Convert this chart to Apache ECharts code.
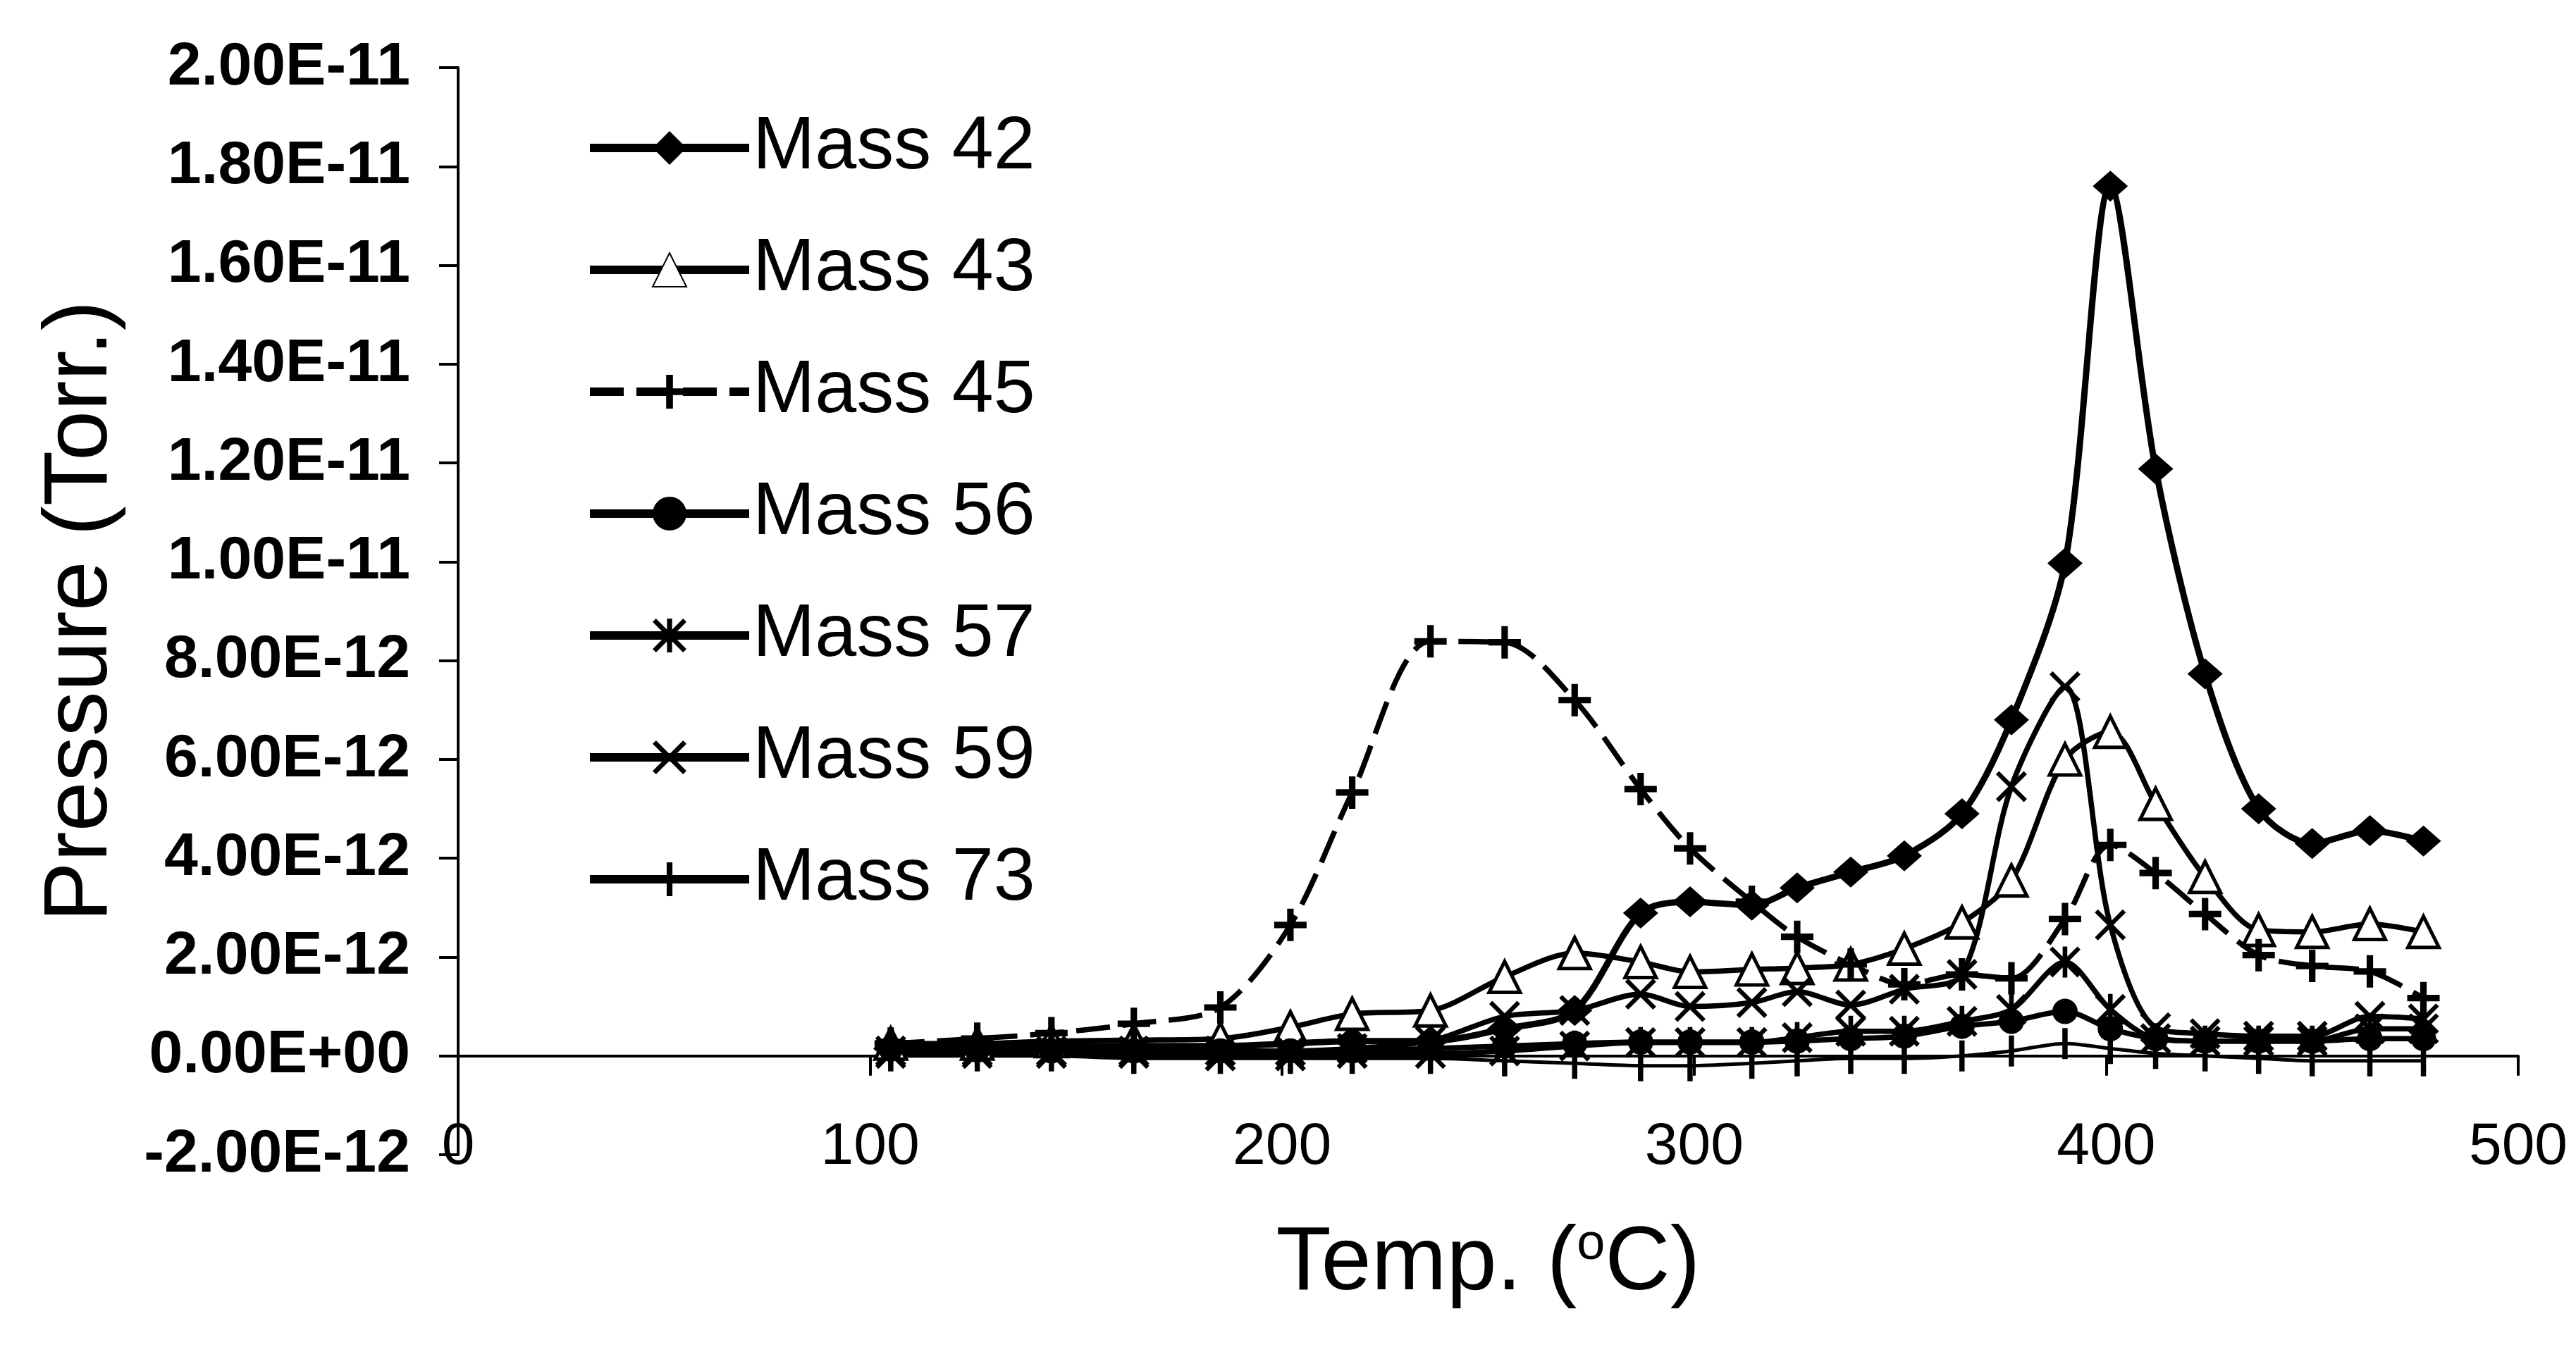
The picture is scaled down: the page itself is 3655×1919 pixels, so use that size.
<!DOCTYPE html>
<html>
<head>
<meta charset="utf-8">
<script src="https://cdn.jsdelivr.net/npm/echarts@6/dist/echarts.min.js"></script>
<style>
  html, body { margin: 0; padding: 0; background: #fff; }
  #chart { width: 3655px; height: 1919px; }
</style>
</head>
<body>
<div id="chart"></div>
<script>
// temperatures (deg C) of the measured points
var temps = [105, 126, 144, 164, 185, 202, 217, 236, 254, 271, 287, 299, 314, 325, 338, 351, 365, 377, 390, 401, 412, 424, 437, 450, 464, 477];

// pressures, in units of 1E-12 Torr
var mass42 = [0.15, 0.15, 0.2, 0.2, 0.2, 0.25, 0.3, 0.3, 0.55, 0.92, 2.89, 3.12, 3.05, 3.4, 3.72, 4.05, 4.9, 6.8, 9.97, 17.6, 11.88, 7.73, 5.0, 4.3, 4.56, 4.35];
var mass43 = [0.25, 0.25, 0.3, 0.32, 0.35, 0.58, 0.85, 0.92, 1.6, 2.08, 1.9, 1.7, 1.75, 1.78, 1.85, 2.17, 2.7, 3.55, 6.0, 6.56, 5.1, 3.62, 2.55, 2.51, 2.67, 2.51];
var mass45 = [0.25, 0.35, 0.46, 0.65, 0.98, 2.65, 5.33, 8.39, 8.37, 7.2, 5.4, 4.2, 3.12, 2.41, 1.85, 1.45, 1.65, 1.57, 2.77, 4.27, 3.7, 2.87, 2.04, 1.82, 1.71, 1.17];
var mass56 = [0.15, 0.12, 0.1, 0.1, 0.1, 0.1, 0.1, 0.15, 0.2, 0.25, 0.28, 0.28, 0.28, 0.3, 0.35, 0.4, 0.6, 0.7, 0.9, 0.55, 0.35, 0.3, 0.3, 0.3, 0.35, 0.35];
var mass57 = [0.05, 0.05, 0.05, 0.05, 0.0, 0.0, 0.05, 0.05, 0.1, 0.2, 0.27, 0.27, 0.27, 0.37, 0.5, 0.5, 0.7, 0.94, 1.9, 0.94, 0.35, 0.3, 0.3, 0.3, 0.55, 0.55];
var mass59 = [0.1, 0.1, 0.1, 0.1, 0.1, 0.1, 0.15, 0.3, 0.8, 0.92, 1.25, 1.0, 1.08, 1.3, 1.03, 1.35, 1.65, 5.45, 7.47, 2.65, 0.57, 0.45, 0.4, 0.4, 0.8, 0.75];
var mass73 = [0.0, 0.0, 0.0, -0.05, -0.05, -0.05, -0.05, -0.05, -0.1, -0.15, -0.2, -0.2, -0.15, -0.1, -0.05, -0.05, 0.0, 0.1, 0.25, 0.15, 0.05, 0.0, -0.05, -0.1, -0.1, -0.1];

var seriesNames = ['Mass 42', 'Mass 43', 'Mass 45', 'Mass 56', 'Mass 57', 'Mass 59', 'Mass 73'];

var FONT = 'Liberation Sans, Arial, sans-serif';

// marker shapes (all in a 20x20 box so legend and plot agree)
var plusPath = 'path://M8,0 H12 V8 H20 V12 H12 V20 H8 V12 H0 V8 H8 Z';
var crossPath = 'path://M0,2 L2,0 L10,8 L18,0 L20,2 L12,10 L20,18 L18,20 L10,12 L2,20 L0,18 L8,10 Z';
var starPath = 'path://M0,2 L2,0 L10,8 L18,0 L20,2 L12,10 L20,18 L18,20 L10,12 L2,20 L0,18 L8,10 Z M8.5,0 H11.5 V20 H8.5 Z';
var barPath = 'path://M0,0 L0.01,0 Z M20,20 L19.99,20 Z M8.3,0 H11.7 V20 H8.3 Z';

function pairs(vals) {
    return temps.map(function (t, i) { return [t, vals[i]]; });
}

function makeSeries(name, vals, symbol, size, lineOpt, itemOpt) {
    return {
        name: name,
        type: 'line',
        xAxisIndex: 0,
        data: pairs(vals),
        smooth: 0.3,
        symbol: symbol,
        symbolSize: size,
        showAllSymbol: true,
        lineStyle: Object.assign({ color: '#000', width: 7.5 }, lineOpt || {}),
        itemStyle: Object.assign({ color: '#000' }, itemOpt || {}),
        emphasis: { disabled: true },
        z: 3
    };
}

// 2.00E-11 style labels
function sciLabel(v) {
    var val = v * 1e-12;
    if (Math.abs(v) < 1e-6) val = 0;
    var s = val.toExponential(2);
    s = s.replace(/e([+-])(\d)$/, 'e$10$2');
    return s.toUpperCase();
}

var chart = echarts.init(document.getElementById('chart'));

var option = {
    animation: false,
    backgroundColor: '#fff',
    grid: { left: 650, right: 82, top: 96, bottom: 280, containLabel: false },
    legend: {
        orient: 'vertical',
        left: 826,
        top: 150,
        itemWidth: 226,
        itemHeight: 60,
        itemGap: 63,
        data: seriesNames,
        textStyle: { fontSize: 106, color: '#000', fontFamily: FONT, lineHeight: 110 },
        lineStyle: { width: 12 }
    },
    xAxis: [
        {
            // bottom labels and axis title
            type: 'value',
            min: 0, max: 500, interval: 100,
            position: 'bottom',
            axisLine: { show: false, onZero: false },
            axisTick: { show: false },
            splitLine: { show: false },
            axisLabel: { fontSize: 84, color: '#000', fontFamily: FONT, margin: -52 },
            name: 'Temp. ({sup|o}C)',
            nameLocation: 'middle',
            nameGap: 92,
            nameTextStyle: {
                fontSize: 128, color: '#000', fontFamily: FONT,
                rich: { sup: { fontSize: 72, color: '#000', fontFamily: FONT, verticalAlign: 'top', lineHeight: 128 } }
            }
        },
        {
            // line through zero
            type: 'value',
            min: 0, max: 500, interval: 100,
            position: 'bottom',
            axisLine: { show: true, onZero: true, lineStyle: { color: '#000', width: 4 } },
            axisTick: { show: true, length: 28, lineStyle: { color: '#000', width: 4 } },
            axisLabel: { show: false },
            splitLine: { show: false }
        }
    ],
    yAxis: {
        type: 'value',
        min: -2, max: 20, interval: 2,
        axisLine: { show: true, onZero: false, lineStyle: { color: '#000', width: 4 } },
        axisTick: { show: true, length: 27, lineStyle: { color: '#000', width: 4 } },
        splitLine: { show: false },
        axisLabel: { fontSize: 86, fontWeight: 'bold', color: '#000', fontFamily: FONT, margin: 68, formatter: sciLabel },
        name: 'Pressure (Torr.)',
        nameLocation: 'middle',
        nameGap: 470,
        nameTextStyle: { fontSize: 128, color: '#000', fontFamily: FONT }
    },
    series: [
        makeSeries('Mass 42', mass42, 'diamond', [50, 44], { width: 9 }),
        makeSeries('Mass 43', mass43, 'triangle', 44, {}, { color: '#fff', borderColor: '#000', borderWidth: 5 }),
        makeSeries('Mass 45', mass45, plusPath, 46, { type: [48, 18], width: 7.5 }),
        makeSeries('Mass 56', mass56, 'circle', 36, {}),
        makeSeries('Mass 57', mass57, starPath, 44, {}),
        makeSeries('Mass 59', mass59, crossPath, 44, {}),
        makeSeries('Mass 73', mass73, barPath, 44, { width: 5 })
    ]
};

chart.setOption(option);
</script>
</body>
</html>
